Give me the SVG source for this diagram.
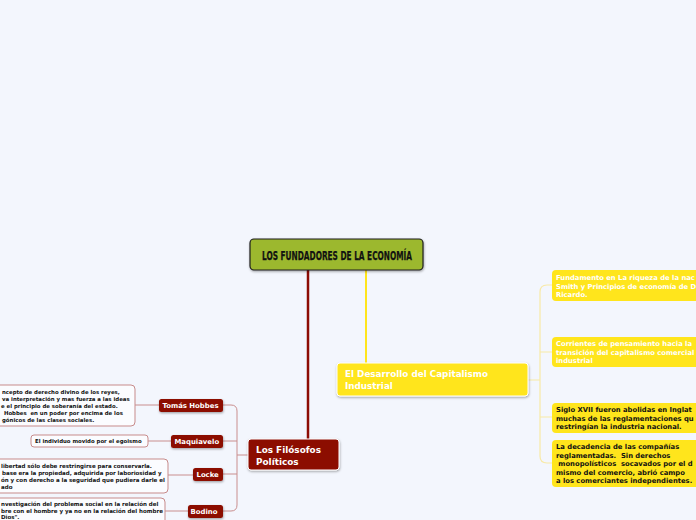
<svg xmlns="http://www.w3.org/2000/svg" width="696" height="520" viewBox="0 0 696 520">
<defs>
<filter id="sh" x="-10%" y="-10%" width="130%" height="140%">
<feDropShadow dx="0.5" dy="1.2" stdDeviation="0.8" flood-color="#000" flood-opacity="0.35"/>
</filter>
</defs>
<style>
.t{font-family:"DejaVu Sans",Verdana,sans-serif;font-weight:bold}
.red{fill:#8c0c05}
.yel{fill:#ffe51c}
.note{fill:#fbfcff;stroke:#c78b8b;stroke-width:1}
.wt{fill:#ffffff}
.bk{fill:#111111}
.lc{fill:none;stroke:#c98e8e;stroke-width:1}
.yc{fill:none;stroke:#f8e9a6;stroke-width:1.2}
</style>
<rect width="696" height="520" fill="#f3f6fd"/>

<g id="connectors">
<line x1="308" y1="270" x2="308" y2="440" stroke="#8c0c05" stroke-width="2.5"/>
<line x1="366" y1="270" x2="366" y2="364" stroke="#ffe51c" stroke-width="2"/>
<path class="yc" d="M528 380 H540 M540 292 Q540 285 547 285 H553 M540 292 V456 Q540 463 547 463 H553 M540 352 H553 M540 417 H553"/>
<path class="lc" d="M248 455 H237 M237 411 Q237 405 231 405 H223 M237 411 V505 Q237 511 231 511 H223 M237 441 H223 M237 474 H223"/>
<path class="lc" d="M135 405 H159 M148 441 H171 M168 475 H193 M165 511 H188"/>
</g>

<g id="root">
<rect x="250" y="239" width="173" height="31" rx="4" fill="#9cb82f" stroke="#1e1e1e" stroke-width="1.2" filter="url(#sh)"/>
<text x="262" y="260" textLength="150" lengthAdjust="spacingAndGlyphs" font-family="'DejaVu Sans Condensed','DejaVu Sans',sans-serif" font-weight="bold" font-size="12.8" fill="#111" stroke="#111" stroke-width="0.25">LOS FUNDADORES DE LA ECONOMÍA</text>
</g>

<g id="filosofos">
<rect x="248" y="439" width="91" height="31" rx="3" class="red" stroke="#ffffff" stroke-width="1" filter="url(#sh)"/>
<text class="t wt" font-size="8.9"><tspan x="256" y="453">Los Filósofos</tspan><tspan x="256" y="465">Políticos</tspan></text>
</g>

<g id="desarrollo">
<rect x="337" y="363" width="191" height="33" rx="3" class="yel" stroke="#ffffff" stroke-width="1" filter="url(#sh)"/>
<text class="t wt" font-size="8.8"><tspan x="345" y="377">El Desarrollo del Capitalismo</tspan><tspan x="345" y="389">Industrial</tspan></text>
</g>

<g id="fundamento">
<rect x="552" y="270" width="160" height="31" rx="4" class="yel"/>
<text class="t wt" font-size="6.8"><tspan x="556" y="280">Fundamento en La riqueza de la nac</tspan><tspan x="556" y="288.5">Smith y Principios de economía de D</tspan><tspan x="556" y="297">Ricardo.</tspan></text>
</g>

<g id="corrientes">
<rect x="552" y="337" width="160" height="30" rx="4" class="yel"/>
<text class="t wt" font-size="6.8"><tspan x="556" y="346">Corrientes de pensamiento hacia la</tspan><tspan x="556" y="354.5">transición del capitalismo comercial</tspan><tspan x="556" y="363">industrial</tspan></text>
</g>

<g id="siglo">
<rect x="552" y="403" width="160" height="30" rx="4" class="yel"/>
<text class="t bk" font-size="6.8"><tspan x="556" y="412">Siglo XVII fueron abolidas en Inglat</tspan><tspan x="556" y="420.5">muchas de las reglamentaciones qu</tspan><tspan x="556" y="429">restringían la industria nacional.</tspan></text>
</g>

<g id="decadencia">
<rect x="552" y="440" width="160" height="47" rx="4" class="yel"/>
<text class="t bk" font-size="6.8" xml:space="preserve"><tspan x="556" y="449">La decadencia de las compañías</tspan><tspan x="556" y="457.5">reglamentadas.  Sin derechos</tspan><tspan x="556" y="466"> monopolísticos  socavados por el d</tspan><tspan x="556" y="474.5">mismo del comercio, abrió campo</tspan><tspan x="556" y="483">a los comerciantes independientes.</tspan></text>
</g>

<g id="hobbes">
<rect x="159" y="399" width="64" height="13" rx="2.5" class="red" filter="url(#sh)"/>
<text class="t wt" font-size="6.9" x="162.5" y="408">Tomás Hobbes</text>
</g>
<g id="maquiavelo">
<rect x="171" y="435" width="52" height="13" rx="2.5" class="red" filter="url(#sh)"/>
<text class="t wt" font-size="6.9" x="174.5" y="444">Maquiavelo</text>
</g>
<g id="locke">
<rect x="193" y="468" width="30" height="13" rx="2.5" class="red" filter="url(#sh)"/>
<text class="t wt" font-size="6.9" x="196.5" y="477">Locke</text>
</g>
<g id="bodino">
<rect x="188" y="505" width="35" height="13" rx="2.5" class="red" filter="url(#sh)"/>
<text class="t wt" font-size="6.9" x="190.5" y="514">Bodino</text>
</g>

<g id="nota-hobbes">
<rect x="-10" y="385" width="145" height="41" rx="4" class="note"/>
<text class="t bk" font-size="5.4" xml:space="preserve"><tspan x="2" y="394">ncepto de derecho divino de los reyes,</tspan><tspan x="2" y="401">va interpretación y mas fuerza a las ideas</tspan><tspan x="1" y="408">e el principio de soberanía del estado.</tspan><tspan x="2" y="415"> Hobbes  en un poder por encima de los</tspan><tspan x="2" y="422">gónicos de las clases sociales.</tspan></text>
</g>
<g id="nota-maquiavelo">
<rect x="31" y="435" width="117" height="12" rx="3" class="note"/>
<text class="t bk" font-size="5.4" x="35" y="443">El individuo movido por el egoismo</text>
</g>
<g id="nota-locke">
<rect x="-10" y="459" width="178" height="34" rx="4" class="note"/>
<text class="t bk" font-size="5.5"><tspan x="1" y="468">libertad sólo debe restringirse para conservarla.</tspan><tspan x="2" y="475">base era la propiedad, adquirida por laboriosidad y</tspan><tspan x="1" y="482">ón y con derecho a la seguridad que pudiera darle el</tspan><tspan x="1" y="489">ado</tspan></text>
</g>
<g id="nota-bodino">
<rect x="-10" y="498" width="175" height="30" rx="4" class="note"/>
<text class="t bk" font-size="5.5"><tspan x="1" y="506">nvestigación del problema social en la relación del</tspan><tspan x="1" y="512.5">bre con el hombre y ya no en la relación del hombre</tspan><tspan x="1" y="518.8">Dios".</tspan></text>
</g>
</svg>
